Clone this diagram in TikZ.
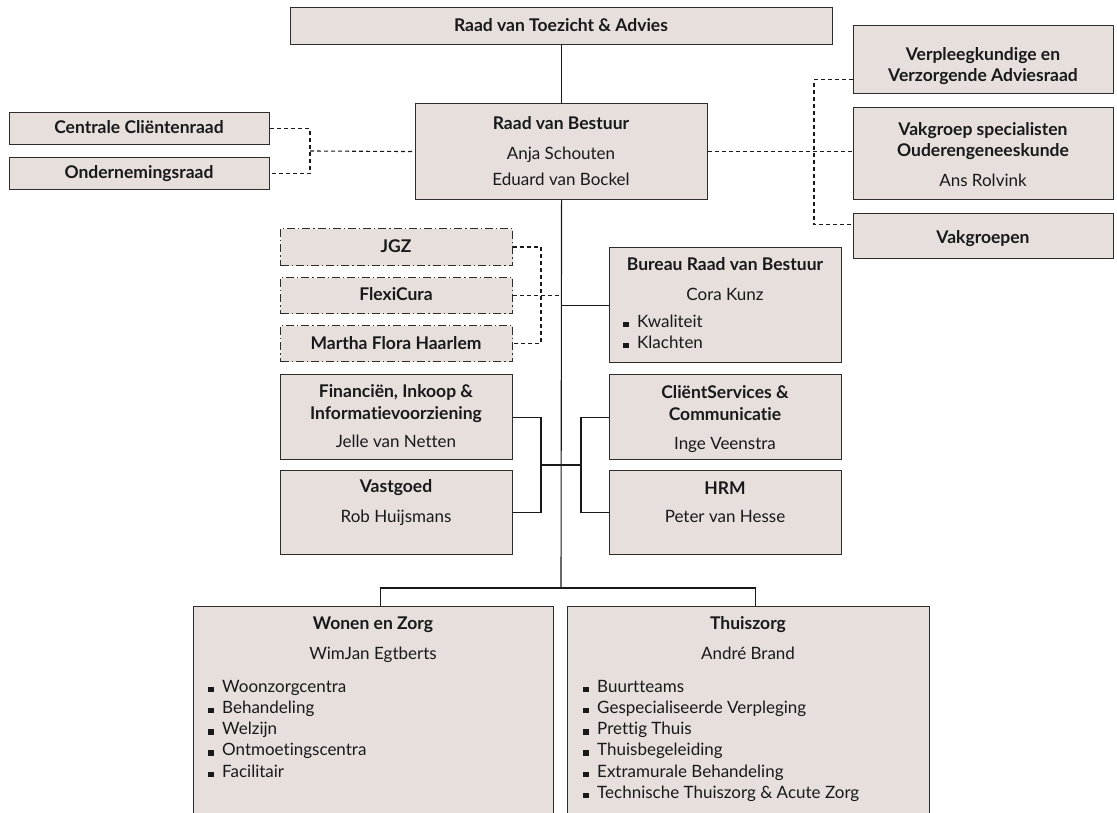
\documentclass[tikz,border=0pt]{standalone}
\usepackage{fontspec}
\setmainfont{Lato}[Ligatures=NoCommon]
\usetikzlibrary{calc}
\definecolor{boxfill}{RGB}{230,223,220}
\definecolor{boxline}{RGB}{45,45,45}
\definecolor{ink}{RGB}{25,25,25}
\tikzset{
  box/.style={draw=boxline, fill=boxfill, line width=1.1pt, inner sep=0pt, rectangle, anchor=north west},
  dbox/.style={box, dash pattern=on 8pt off 3pt on 1.2pt off 3pt},
  conn/.style={draw=ink, line width=1.1pt},
  dconn/.style={conn, dash pattern=on 4pt off 3pt},
  tt/.style={text=ink, inner sep=0pt, anchor=base, font=\fontsize{17.5}{20}\selectfont\bfseries},
  nt/.style={text=ink, inner sep=0pt, anchor=base, font=\fontsize{17}{20}\selectfont},
  bt/.style={nt, anchor=base west},
}
\newcommand\mkbox[6]{\node[#6, minimum width=#4pt-#2pt, minimum height=#5pt-#3pt] (#1) at (#2,#3) {};}
\newcommand\tline[5]{\node[#1] (#2) at (#3,#4) {#5};}
\newcommand\blt{\rule{5.5pt}{5.5pt}\hspace{8.5pt}}
\begin{document}
\begin{tikzpicture}[x=1pt,y=-1pt]
\useasboundingbox (0,0) rectangle (1117,813);
\clip (0,0) rectangle (1117,813);
% boxes
\mkbox{rvt}{290}{7}{832}{44}{box}
\mkbox{rvb}{415}{103}{707}{199}{box}
\mkbox{ccr}{9}{112}{269}{144}{box}
\mkbox{ondr}{9}{157}{269}{189}{box}
\mkbox{vva}{853}{25}{1113}{93}{box}
\mkbox{vso}{853}{107}{1113}{199}{box}
\mkbox{vg}{853}{213}{1113}{258}{box}
\mkbox{jgz}{280}{228}{512}{265}{dbox}
\mkbox{flexi}{280}{277}{512}{313}{dbox}
\mkbox{mfh}{280}{325}{512}{361}{dbox}
\mkbox{bureau}{609}{247}{841}{362}{box}
\mkbox{fin}{280}{374}{512}{459}{box}
\mkbox{cs}{609}{374}{841}{459}{box}
\mkbox{vast}{280}{470}{512}{554}{box}
\mkbox{hrm}{609}{470}{841}{554}{box}
\mkbox{wz}{193}{606}{553}{830}{box}
\mkbox{tz}{567}{606}{929}{830}{box}
% connectors
\coordinate (bus) at (561,588);
\coordinate (lj) at (541,465);
\coordinate (rj) at (581,465);
\coordinate (rd) at (814,151);
\coordinate (ld) at (310,151);
\coordinate (jd) at (541,296);
\draw[conn] (rvt.south) -- (rvt.south |- rvb.north);
\draw[conn] (rvb.south) -- (bus);
\draw[conn] ([xshift=7pt]wz.north) -- ([xshift=7pt]wz.north |- bus) -- ([xshift=7pt]tz.north |- bus) -- ([xshift=7pt]tz.north);
\draw[conn] (bureau.west) -- (bureau.west -| rvb.south);
\draw[dconn] (jgz.east) -| (jd) |- (mfh.east);
\draw[dconn] (flexi.east) -- (flexi.east -| rvb.south);
\draw[conn] (fin.east) -| (lj) |- (vast.east);
\draw[conn] (lj) -- (rj);
\draw[conn] (cs.west) -| (rj) |- (hrm.west);
\draw[dconn] (rvb.east) -- (rvb.east -| vso.west);
\draw[dconn] ([yshift=-20pt]vva.west) -| (rd) |- ([yshift=11.5pt]vg.west);
\draw[dconn] (ccr.east) -| (ld) |- (ondr.east);
\draw[dconn] (ld) -- (rvb.west);
% texts
\tline{tt}{rvt1}{561}{31.5}{Raad van Toezicht \& Advies}
\tline{tt}{rvb1}{561}{130}{Raad van Bestuur}
\tline{nt}{rvb2}{561}{160}{Anja Schouten}
\tline{nt}{rvb3}{561}{186}{Eduard van Bockel}
\tline{tt}{ccr1}{139}{134}{Centrale Cliëntenraad}
\tline{tt}{ondr1}{139}{179}{Ondernemingsraad}
\tline{tt}{vva1}{983}{61}{Verpleegkundige en}
\tline{tt}{vva2}{983}{82}{Verzorgende Adviesraad}
\tline{tt}{vso1}{983}{136}{Vakgroep specialisten}
\tline{tt}{vso2}{983}{157}{Ouderengeneeskunde}
\tline{nt}{vso3}{983}{187}{Ans Rolvink}
\tline{tt}{vg1}{983}{244}{Vakgroepen}
\tline{tt}{jgz1}{396}{252.5}{JGZ}
\tline{tt}{flexi1}{396}{301}{FlexiCura}
\tline{tt}{mfh1}{396}{349}{Martha Flora Haarlem}
\tline{tt}{bur1}{725}{271}{Bureau Raad van Bestuur}
\tline{nt}{bur2}{725}{301}{Cora Kunz}
\tline{bt}{bur3}{623}{327}{\blt Kwaliteit}
\tline{bt}{bur4}{623}{348}{\blt Klachten}
\tline{tt}{fin1}{396}{397}{Financiën, Inkoop \&}
\tline{tt}{fin2}{396}{419}{Informatievoorziening}
\tline{nt}{fin3}{396}{447}{Jelle van Netten}
\tline{tt}{vast1}{396}{492}{Vastgoed}
\tline{nt}{vast2}{396}{522}{Rob Huijsmans}
\tline{tt}{cs1}{725}{398}{CliëntServices \&}
\tline{tt}{cs2}{725}{420}{Communicatie}
\tline{nt}{cs3}{725}{449}{Inge Veenstra}
\tline{tt}{hrm1}{725}{494}{HRM}
\tline{nt}{hrm2}{725}{522}{Peter van Hesse}
\tline{tt}{wz1}{373}{629}{Wonen en Zorg}
\tline{nt}{wz2}{373}{659}{WimJan Egtberts}
\tline{bt}{wz3}{208}{692}{\blt Woonzorgcentra}
\tline{bt}{wz4}{208}{713.25}{\blt Behandeling}
\tline{bt}{wz5}{208}{734.5}{\blt Welzijn}
\tline{bt}{wz6}{208}{755.75}{\blt Ontmoetingscentra}
\tline{bt}{wz7}{208}{777}{\blt Facilitair}
\tline{tt}{tz1}{748}{629}{Thuiszorg}
\tline{nt}{tz2}{748}{659}{André Brand}
\tline{bt}{tz3}{583}{692}{\blt Buurtteams}
\tline{bt}{tz4}{583}{713.25}{\blt Gespecialiseerde Verpleging}
\tline{bt}{tz5}{583}{734.5}{\blt Prettig Thuis}
\tline{bt}{tz6}{583}{755.75}{\blt Thuisbegeleiding}
\tline{bt}{tz7}{583}{777}{\blt Extramurale Behandeling}
\tline{bt}{tz8}{583}{798.25}{\blt Technische Thuiszorg \& Acute Zorg}
\end{tikzpicture}
\end{document}
